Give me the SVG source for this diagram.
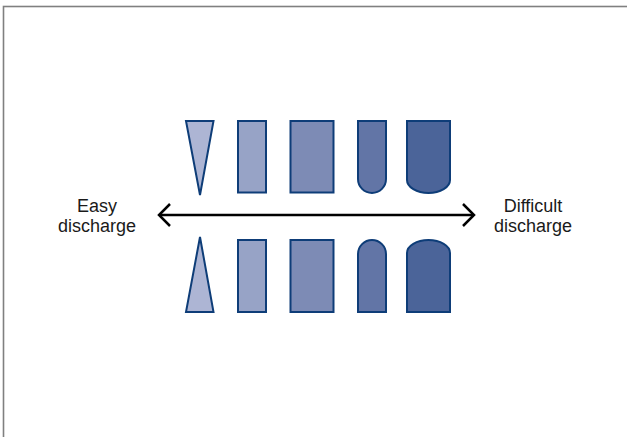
<svg xmlns="http://www.w3.org/2000/svg" width="627" height="437" viewBox="0 0 627 437">
<style>
.s{stroke:#0e3d78;stroke-width:2;stroke-linejoin:miter}
.f1{fill:#adb5d4}.f2{fill:#97a3c6}.f3{fill:#7d8bb5}.f4{fill:#6275a6}.f5{fill:#4b6499}
.t{font-family:"Liberation Sans",Arial,sans-serif;font-size:18px;fill:#1a1a1a;text-anchor:middle}
.a{stroke:#000;stroke-width:2.5;fill:none}
</style>
<rect x="3.5" y="6.5" width="640" height="450" fill="#fff" stroke="#808080" stroke-width="1.6"/>
<g id="top-row">
<g id="top-triangle"><polygon class="s f1" points="186,121 213.5,121 200,195"/></g>
<g id="top-rect-narrow"><rect class="s f2" x="238" y="121" width="28" height="71.5"/></g>
<g id="top-rect-wide"><rect class="s f3" x="290.5" y="121" width="43" height="71.5"/></g>
<g id="top-u-narrow"><path class="s f4" d="M358,121 V179 A14,14 0 0 0 386,179 V121 Z"/></g>
<g id="top-u-wide"><path class="s f5" d="M407,121 V180 A21.5,13 0 0 0 450,180 V121 Z"/></g>
</g>
<g id="bottom-row">
<g id="bottom-triangle"><polygon class="s f1" points="186,312 213.5,312 200,237"/></g>
<g id="bottom-rect-narrow"><rect class="s f2" x="238" y="240" width="28" height="72"/></g>
<g id="bottom-rect-wide"><rect class="s f3" x="290.5" y="240" width="43" height="72"/></g>
<g id="bottom-u-narrow"><path class="s f4" d="M358,312 V254 A14,14 0 0 1 386,254 V312 Z"/></g>
<g id="bottom-u-wide"><path class="s f5" d="M407,312 V253 A21.5,13 0 0 1 450,253 V312 Z"/></g>
</g>
<g id="connectors">
<line class="a" x1="159" y1="215" x2="474" y2="215"/>
<polyline class="a" points="170,204 159,215 170,226"/>
<polyline class="a" points="463,204 474,215 463,226"/>
</g>
<g id="label-easy">
<text class="t" x="97" y="212">Easy</text>
<text class="t" x="97" y="232">discharge</text>
</g>
<g id="label-difficult">
<text class="t" x="533" y="212">Difficult</text>
<text class="t" x="533" y="232">discharge</text>
</g>
</svg>
